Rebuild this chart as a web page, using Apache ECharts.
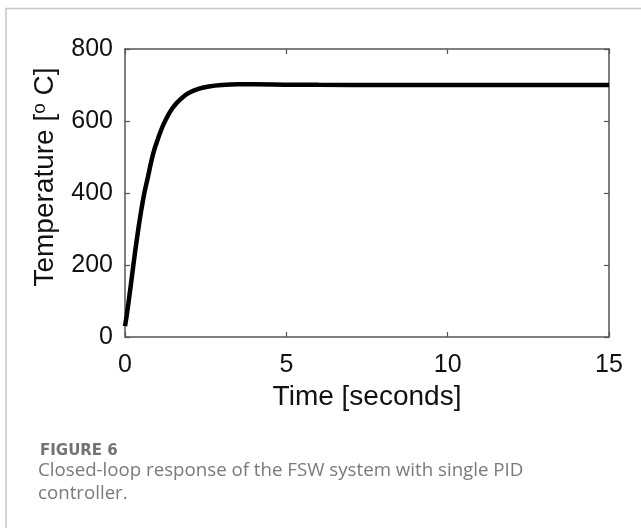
<!DOCTYPE html>
<html>
<head>
<meta charset="utf-8">
<script src="https://cdn.jsdelivr.net/npm/echarts@6/dist/echarts.min.js"></script>
<style>
  html, body { margin: 0; padding: 0; background: #fff; }
  #chart { width: 641px; height: 528px; }
</style>
</head>
<body>
<div id="chart"></div>
<script>
// time in seconds
const timeValues = [0, 0.05, 0.1, 0.15, 0.2, 0.3, 0.4, 0.5, 0.6, 0.7, 0.8, 0.9, 1.0, 1.1, 1.2, 1.4, 1.6, 1.8, 2.0, 2.3, 2.6, 3.0, 3.5, 4, 5, 6, 8, 10, 12, 15];
// temperature in deg C
const tempValues = [30, 58, 90, 124, 158, 228, 292, 350, 400, 440, 482, 518, 545, 570, 592, 626, 650, 667, 679, 690, 696, 700, 702, 702, 701, 700.5, 700, 700, 700, 700];

const xTicks = [0, 5, 10, 15];
const yTicks = [0, 200, 400, 600, 800];

const figureLabel = 'FIGURE 6';
const captionText = 'Closed-loop response of the FSW system with single PID\ncontroller.';

var dom = document.getElementById('chart');
var myChart = echarts.init(dom);

const lineData = timeValues.map(function (t, i) {
    return [t, tempValues[i]];
});

const axisColor = '#555';
const font = 'Liberation Sans, Arial, sans-serif';

const baseAxis = {
    type: 'value',
    axisLine: { show: true, onZero: false, lineStyle: { color: axisColor, width: 1.5 } },
    axisTick: { show: true, inside: true, length: 5, lineStyle: { color: axisColor, width: 1.2 } },
    splitLine: { show: false }
};

var option = {
    animation: false,
    backgroundColor: '#fff',
    grid: {
        left: 125,
        right: 32,
        top: 49,
        bottom: 191
    },
    xAxis: [
        Object.assign({}, baseAxis, {
            min: xTicks[0],
            max: xTicks[xTicks.length - 1],
            interval: 5,
            position: 'bottom',
            name: 'Time [seconds]',
            nameLocation: 'middle',
            nameGap: 46,
            nameTextStyle: { fontFamily: font, fontSize: 28, color: '#111' },
            axisLabel: { margin: 16, fontFamily: font, fontSize: 25, color: '#111' }
        }),
        Object.assign({}, baseAxis, {
            min: xTicks[0],
            max: xTicks[xTicks.length - 1],
            interval: 5,
            position: 'top',
            axisLabel: { show: false }
        })
    ],
    yAxis: [
        Object.assign({}, baseAxis, {
            min: yTicks[0],
            max: yTicks[yTicks.length - 1],
            interval: 200,
            position: 'left',
            name: 'Temperature [{sup|o} C]',
            nameLocation: 'middle',
            nameGap: 64,
            nameTextStyle: {
                fontFamily: font, fontSize: 28, color: '#111',
                padding: [0, 0, 0, 32],
                rich: {
                    sup: { fontFamily: font, fontSize: 19, color: '#111', verticalAlign: 'top', padding: [0, 0, 12, 0] }
                }
            },
            axisLabel: { margin: 12, fontFamily: font, fontSize: 25, color: '#111' }
        }),
        Object.assign({}, baseAxis, {
            min: yTicks[0],
            max: yTicks[yTicks.length - 1],
            interval: 200,
            position: 'right',
            axisLabel: { show: false }
        })
    ],
    series: [
        {
            type: 'line',
            data: lineData,
            smooth: 0.3,
            showSymbol: false,
            symbol: 'none',
            lineStyle: { color: '#000', width: 4.5 },
            z: 3
        }
    ],
    graphic: [
        {
            type: 'polyline',
            shape: { points: [[6, 528], [6, 8.5], [641, 8.5]] },
            style: { stroke: '#c8c8c8', lineWidth: 1.5, fill: null }
        },
        {
            type: 'text',
            left: 40,
            top: 444,
            style: {
                text: figureLabel,
                font: 'bold 15px "DejaVu Sans", sans-serif',
                fill: '#727272'
            }
        },
        {
            type: 'text',
            left: 38,
            top: 459,
            style: {
                text: captionText,
                font: '18.7px "Open Sans", Lato, sans-serif',
                lineHeight: 23,
                fill: '#7a7a7a'
            }
        }
    ]
};

myChart.setOption(option);
</script>
</body>
</html>
